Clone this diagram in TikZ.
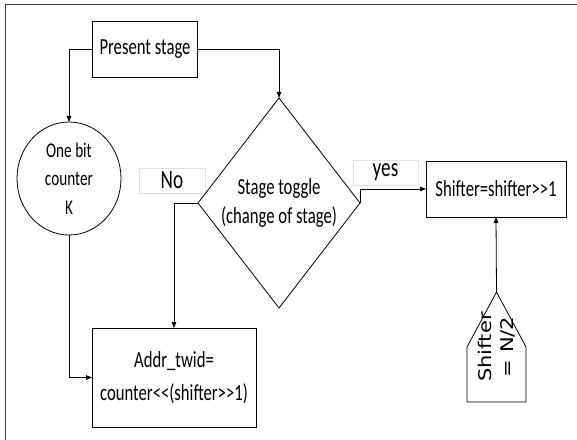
\documentclass[tikz,border=0pt]{standalone}
\usepackage{fontspec}
\setmainfont{Carlito}[FakeStretch=0.725]
\newfontfamily\sidefont{DejaVu Sans}[FakeStretch=1.2]
\usetikzlibrary{arrows.meta,shapes.geometric}

\begin{document}
\begin{tikzpicture}[x=1pt,y=-1pt,
  line width=0.8pt,
  every node/.style={inner sep=0pt, outer sep=0pt},
  box/.style={draw, rectangle, align=center, font=\fontsize{23}{33.5}\selectfont},
  arr/.style={-{Triangle[length=6pt,width=4.5pt]}},
  tag/.style={draw=black!12, line width=0.6pt, fill=white,
              font=\fontsize{26.5}{30}\selectfont}
]
\useasboundingbox (0,0) rectangle (577,439);
% page frame
\draw[line width=1.5pt, draw=black!75] (5.5,445) -- (5.5,4.5) -- (582,4.5);

% condition labels
\node[tag, minimum width=66pt, minimum height=25pt] (no) at (172,180.5) {No};
\node[tag, minimum width=65pt, minimum height=25pt] (yes) at (385.5,172.5) {yes};

% blocks
\node[box, minimum width=104.5pt, minimum height=56pt] (present) at (145,49) {Present stage};
\node[draw, ellipse, minimum width=104pt, minimum height=113pt, align=center,
      font=\fontsize{21}{28.5}\selectfont] (counter) at (69,178.5) {One bit\\counter\\K};
\node[draw, diamond, minimum width=162pt, minimum height=210pt] (toggle) at (279,203) {};
\node[align=center, font=\fontsize{23}{29.5}\selectfont] (togglelbl) at (toggle.center)
      {Stage toggle\\(change of stage)};
\node[box, minimum width=140pt, minimum height=56pt] (shifter) at (496,189) {Shifter=shifter>{}>1};
\node[box, minimum width=164pt, minimum height=99pt] (addr) at (174,377.5)
      {Addr\_twid=\\counter<{}<(shifter>{}>1)};

% initial value block (pointed box)
\node[minimum width=59pt, minimum height=110pt] (init) at (496.5,347) {};
\draw (init.south west) -- (init.south east) -- (init.east) -- (init.north)
      -- (init.west) -- cycle;
\node[rotate=90, align=center, font=\sidefont\fontsize{17.5}{22}\selectfont] (initlbl)
      at (init.center) {Shifter\\= N/2};

% connectors
\draw[arr] (present.west) -| (counter.north);
\draw[arr] (present.east) -| (toggle.north);
\draw[arr] (toggle.west) -| (addr.north);
\draw[arr] (counter.south) |- (addr.west);
\draw[arr] (toggle.east) |- (shifter.west);
\draw[arr] (init.north) -- (shifter.south);
\end{tikzpicture}
\end{document}
